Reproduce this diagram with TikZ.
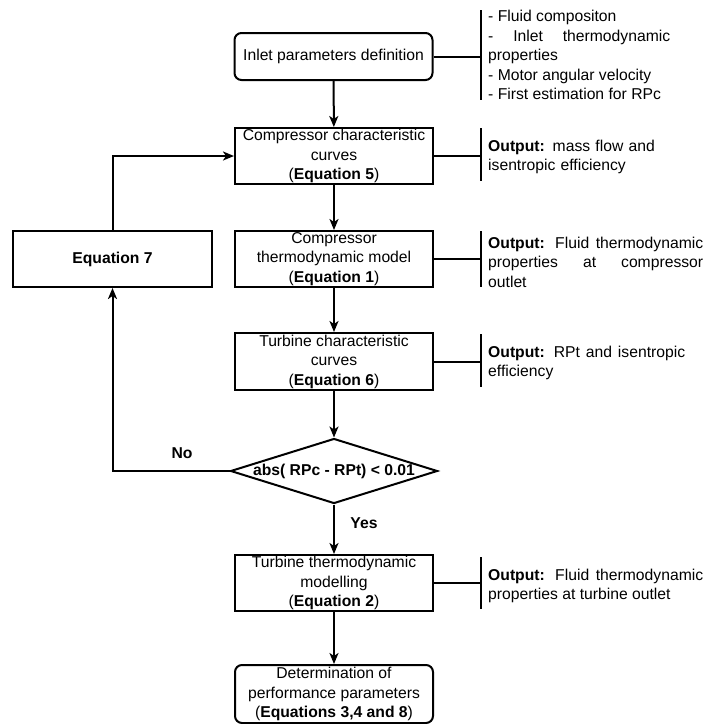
\documentclass[tikz,border=0pt]{standalone}
\usepackage{fontspec}
\setmainfont{Liberation Sans}
\usetikzlibrary{shapes.geometric,arrows.meta}
\begin{document}
\begin{tikzpicture}[x=1pt,y=-1pt,
  every node/.style={font=\fontsize{15.7}{19.5}\selectfont},
  procbox/.style={draw,line width=2pt,minimum width=198pt,minimum height=56pt,inner sep=0pt,align=center},
  roundbox/.style={procbox,rounded corners=7pt},
  outtext/.style={anchor=west,inner sep=0pt,align=justify},
  conn/.style={line width=2pt},
  arr/.style={conn,-{Stealth[length=11pt,width=9pt,inset=3pt]}},
  barline/.style={line width=2pt}]
\useasboundingbox (0,0) rectangle (705,724);

% main boxes
\node[roundbox,minimum height=47pt] (in1) at (333.5,56.5) {Inlet parameters definition};
\node[procbox] (cc) at (334,156) {Compressor characteristic\\curves\\(\textbf{Equation 5})};
\node[procbox] (ctm) at (334,259) {Compressor\\thermodynamic model\\(\textbf{Equation 1})};
\node[procbox,minimum width=199pt] (eq7) at (112.5,259) {\textbf{Equation 7}};
\node[procbox,minimum height=57pt] (tcc) at (334,361.5) {Turbine characteristic\\curves\\(\textbf{Equation 6})};
\node[draw,diamond,line width=2pt,minimum width=207pt,minimum height=65pt,inner sep=0pt,aspect=3.2] (dia) at (334,471) {\makebox[0pt]{\bfseries abs( RPc - RPt) {<} 0.01}};
\node[procbox] (tcm) at (334,583) {Turbine thermodynamic\\modelling\\(\textbf{Equation 2})};
\node[roundbox,minimum height=58pt] (det) at (334,694) {Determination of\\performance parameters\\(\textbf{Equations 3,4 and 8})};

% labels
\node[font=\fontsize{15.7}{19.5}\selectfont\bfseries] (no) at (182,453) {No};
\node[font=\fontsize{15.7}{19.5}\selectfont\bfseries] (yes) at (364,523) {Yes};

% output texts
\node[outtext,text width=182pt] (o1) at (488,55) {- Fluid compositon\newline - Inlet thermodynamic\linebreak properties\newline - Motor angular velocity\newline - First estimation for RPc};
\node[outtext,text width=215pt,align=left] (o2) at (488,157) {\textbf{Output:} mass flow and\\isentropic efficiency};
\node[outtext,text width=215pt] (o3) at (488,262) {\textbf{Output:} Fluid thermodynamic\linebreak properties at compressor\linebreak outlet};
\node[outtext,text width=197pt] (o4) at (488,363) {\textbf{Output:} RPt and isentropic\linebreak efficiency};
\node[outtext,text width=215pt] (o5) at (488,586) {\textbf{Output:} Fluid thermodynamic\linebreak properties at turbine outlet};

% bars
\coordinate (b1t) at (481,10);  \coordinate (b1b) at (481,100);
\coordinate (b2t) at (481,128); \coordinate (b2b) at (481,181);
\coordinate (b3t) at (481,231); \coordinate (b3b) at (481,287);
\coordinate (b4t) at (481,334); \coordinate (b4b) at (481,387);
\coordinate (b5t) at (481,557); \coordinate (b5b) at (481,609);
\draw[barline] (b1t) -- (b1b);
\draw[barline] (b2t) -- (b2b);
\draw[barline] (b3t) -- (b3b);
\draw[barline] (b4t) -- (b4b);
\draw[barline] (b5t) -- (b5b);
\draw[conn] (in1.east) -- (in1.east -| b1t);
\draw[conn] (cc.east) -- (cc.east -| b2t);
\draw[conn] (ctm.east) -- (ctm.east -| b3t);
\draw[conn] (tcc.east) -- (tcc.east -| b4t);
\draw[conn] (tcm.east) -- (tcm.east -| b5t);

% flow arrows
\draw[arr] (in1) -- (cc);
\draw[arr] (cc) -- (ctm);
\draw[arr] (ctm) -- (tcc);
\draw[arr] (tcc) -- (dia.north);
\draw[arr] (dia.south) -- (tcm);
\draw[arr] (tcm) -- (det);
\draw[arr] (dia.west) -| (eq7.south);
\draw[arr] (eq7.north) |- (cc.west);
\end{tikzpicture}
\end{document}
